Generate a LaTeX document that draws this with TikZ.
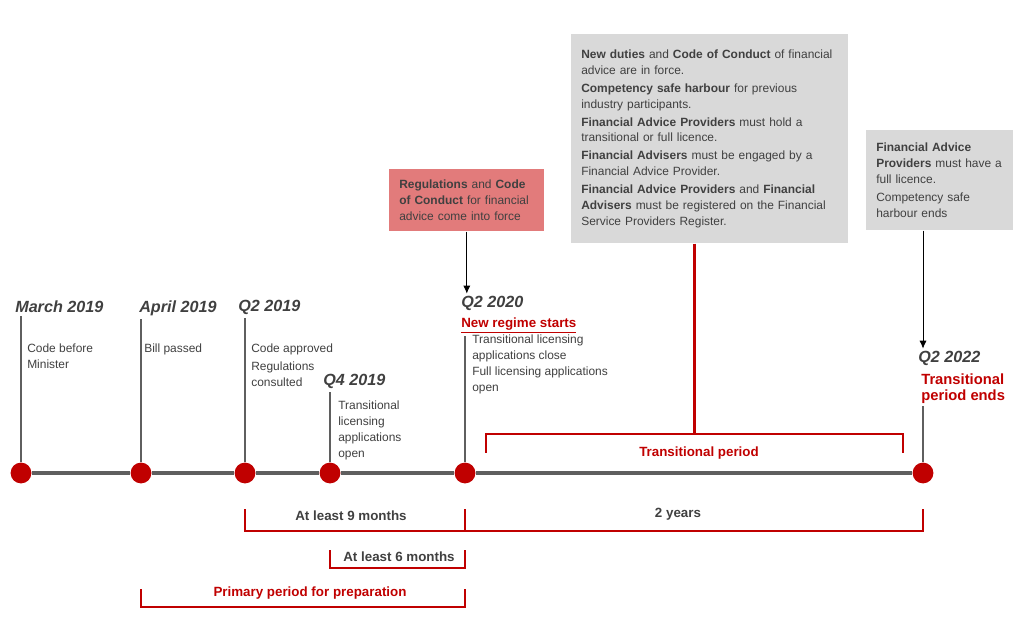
\documentclass[tikz,border=0pt]{standalone}
\usepackage{fontspec}
\setmainfont{Liberation Sans}
\usepackage{xcolor}
\usepackage{tikz}
\usetikzlibrary{arrows.meta, positioning, calc}
\definecolor{nzred}{HTML}{C00000}
\definecolor{nzgrey}{HTML}{404040}
\definecolor{nzline}{HTML}{5F5F5F}
\definecolor{nzpink}{HTML}{E27B7B}
\definecolor{nzbox}{HTML}{D9D9D9}
\tikzset{
  tdot/.style={circle, fill=nzred, minimum size=5.2mm, inner sep=0pt},
  tline/.style={line width=2.2pt, draw=nzline},
  tstem/.style={line width=0.8pt, draw=nzline},
  tdate/.style={font=\fontsize{11.5}{13}\selectfont\bfseries\itshape, text=nzgrey, inner xsep=0pt, inner ysep=2pt, anchor=base west},
  tnote/.style={font=\fontsize{8.5}{11.3}\selectfont, text=nzgrey, align=left, inner sep=0pt, anchor=north west},
  tinfo/.style={tnote, fill=nzbox, inner xsep=2.5mm, inner ysep=0pt},
  tpinkbox/.style={tinfo, fill=nzpink},
  tred/.style={font=\fontsize{10.5}{11.3}\selectfont\bfseries, text=nzred, align=left, inner xsep=0pt, inner ysep=2pt},
  tspan/.style={line width=2.1pt, draw=nzred},
  tspanlbl/.style={font=\fontsize{9.5}{11}\selectfont\bfseries, text=nzgrey, anchor=base, inner sep=0pt},
  tarrow/.style={-{Latex[length=2mm, width=1.8mm]}, line width=0.6pt, black},
}
\begin{document}
\begin{tikzpicture}[x=0.025cm, y=-0.025cm]
    \useasboundingbox (0,0) rectangle (1031,628);
    \node[tdot] (dmar) at (21,473) {};
    \node[tdot] (dapr) at (141,473) {};
    \node[tdot] (dq219) at (245,473) {};
    \node[tdot] (dq419) at (330,473) {};
    \node[tdot] (dq220) at (465,473) {};
    \node[tdot] (dq222) at (923,473) {};
    \node[tdate] (hmar) at (15,313) {March 2019};
    \node[tdate] (hapr) at (139,313) {April 2019};
    \node[tdate] (hq219) at (238,312) {Q2 2019};
    \node[tdate] (hq419) at (323,386) {Q4 2019};
    \node[tdate] (hq220) at (461,308) {Q2 2020};
    \node[tdate] (hq222) at (918,363) {Q2 2022};
    \node[tred, font=\fontsize{9.5}{11}\selectfont\bfseries, below right=0pt and 0pt of hq220.south west] (regime) {\underline{New regime starts}};
    \node[tred, below right=1pt and 0.075cm of hq222.south west] (tends) {Transitional\\period ends};
    \node[tnote] (nmar) at (27,344) {Code before\\Minister};
    \node[tnote] (napr) at (144,344) {Bill passed};
    \node[tnote] (nq219) at (251,344) {Code approved\\[1.4pt]Regulations\\consulted};
    \node[tnote] (nq419) at (338,401) {Transitional\\licensing\\applications\\open};
    \node[tnote] (nq220) at (472,335) {Transitional licensing\\applications close\\Full licensing applications\\open};
    \node[tpinkbox, text width=3.375cm, minimum height=1.55cm] (regs) at (389,169) {\textbf{Regulations} and \textbf{Code}\\\textbf{of Conduct} for financial\\advice come into force};
    \node[tinfo, text width=6.425cm, minimum height=5.225cm] (duties) at (571,34) {\textbf{New duties} and \textbf{Code of Conduct} of financial\\advice are in force.\\[1.4pt]\textbf{Competency safe harbour} for previous\\industry participants.\\[1.4pt]\textbf{Financial Advice Providers} must hold a\\transitional or full licence.\\[1.4pt]\textbf{Financial Advisers} must be engaged by a\\Financial Advice Provider.\\[1.4pt]\textbf{Financial Advice Providers} and \textbf{Financial}\\\textbf{Advisers} must be registered on the Financial\\Service Providers Register.};
    \node[tinfo, text width=3.175cm, minimum height=2.5cm] (lic) at (866,130) {\textbf{Financial Advice}\\\textbf{Providers} must have a\\full licence.\\[1.4pt]Competency safe\\harbour ends};
    \draw[tline] (dmar) -- (dapr) -- (dq219) -- (dq419) -- (dq220) -- (dq222);
    \draw[tstem] (dmar) -- (dmar |- hmar.south);
    \draw[tstem] (dapr) -- (dapr |- hapr.south);
    \draw[tstem] (dq219) -- (dq219 |- hq219.south);
    \draw[tstem] (dq419) -- (dq419 |- hq419.south);
    \draw[tstem] (dq220) -- (dq220 |- regime.south);
    \draw[tstem] (dq222) -- (dq222 |- tends.south);
    \draw[tarrow] (regs.south) -- (regs.south |- hq220.north);
    \draw[tarrow] (dq222 |- lic.south) -- (dq222 |- hq222.north);
    \coordinate (tpl) at (486,434);
    \coordinate (tpr) at (903,434);
    \coordinate (tpmid) at ($(tpl)!0.5!(tpr)$);
    \draw[tspan] (tpl |- 0,453) -- (tpl) -- (tpr) -- (tpr |- 0,453);
    \draw[tspan] (tpmid |- duties.south) -- (tpmid);
    \draw[tspan] (dq219 |- 0,509) -- (dq219 |- 0,531) -- (dq222 |- 0,531) -- (dq222 |- 0,509);
    \draw[tspan] (dq220 |- 0,509) -- (dq220 |- 0,531);
    \draw[tspan] (dq419 |- 0,550) -- (dq419 |- 0,568) -- (dq220 |- 0,568) -- (dq220 |- 0,550);
    \draw[tspan] (dapr |- 0,589) -- (dapr |- 0,607) -- (dq220 |- 0,607) -- (dq220 |- 0,589);
    \node[tspanlbl, text=nzred] (ltrans) at (699,456) {Transitional period};
    \node[tspanlbl] (l9m) at (351,520) {At least 9 months};
    \node[tspanlbl] (l2y) at (678,517) {2 years};
    \node[tspanlbl] (l6m) at (399,561) {At least 6 months};
    \node[tspanlbl, text=nzred] (lprep) at (310,596) {Primary period for preparation};
  \end{tikzpicture}
\end{document}
